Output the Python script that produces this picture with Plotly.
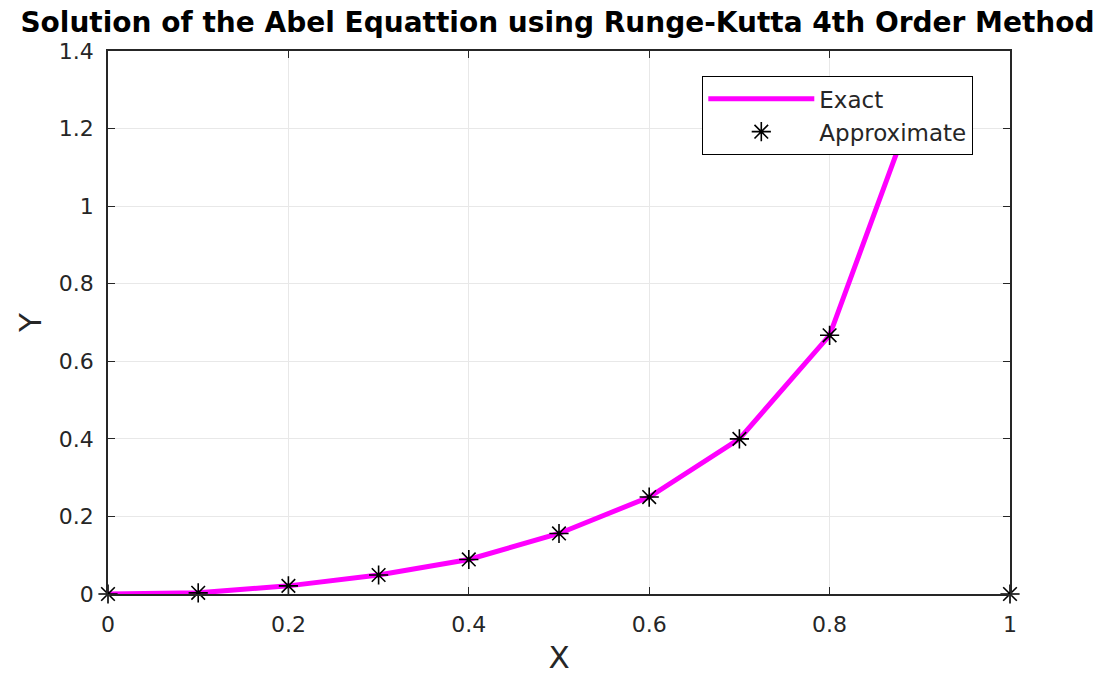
import plotly.graph_objects as go

x_vals = [0.0, 0.1, 0.2, 0.3, 0.4, 0.5, 0.6, 0.7, 0.8, 0.9, 1.0]
exact_vals = [0.0, 0.003, 0.021, 0.049, 0.089, 0.156, 0.25, 0.40, 0.667, 1.30, None]
approx_vals = [0.0, 0.003, 0.021, 0.049, 0.089, 0.156, 0.25, 0.40, 0.667, 1.30, 0.0]

title_text = "Solution of the Abel Equattion using Runge-Kutta 4th Order Method"
x_ticks = [0, 0.2, 0.4, 0.6, 0.8, 1]
y_ticks = [0, 0.2, 0.4, 0.6, 0.8, 1, 1.2, 1.4]

FONT = "DejaVu Sans, Liberation Sans, Arial, sans-serif"
TXT = "#262626"

fig = go.Figure()
fig.add_trace(go.Scatter(
    x=x_vals, y=exact_vals, mode="lines", name="Exact",
    line=dict(color="#ff00ff", width=5), connectgaps=False,
))
fig.add_trace(go.Scatter(
    x=x_vals, y=approx_vals, mode="markers", name="Approximate",
    marker=dict(symbol="asterisk-open", size=16, color="black",
                line=dict(color="black", width=1.6)),
    cliponaxis=False,
))

axis_common = dict(
    showline=True, linecolor=TXT, linewidth=1.5, mirror="ticks",
    ticks="inside", ticklen=7, tickcolor=TXT, tickwidth=1.2,
    showgrid=True, gridcolor="#e8e8e8", gridwidth=1, zeroline=False,
    tickfont=dict(family=FONT, size=22, color=TXT), automargin=False,
)

fig.update_layout(
    width=1115, height=675,
    margin=dict(l=108, r=105, t=51, b=81),
    paper_bgcolor="white", plot_bgcolor="white",
    title=dict(text="<b>" + title_text + "</b>", x=0.5, xanchor="center",
               y=1 - 22 / 675, yanchor="middle",
               font=dict(family=FONT, size=28, color="black")),
    xaxis=dict(range=[0, 1], tickvals=x_ticks, ticktext=[str(v) for v in x_ticks],
               ticklabelstandoff=10,
               title=dict(text="X", font=dict(family=FONT, size=31, color=TXT), standoff=12),
               **axis_common),
    yaxis=dict(range=[0, 1.4], tickvals=y_ticks, ticktext=[str(v) for v in y_ticks],
               ticklabelstandoff=8,
               title=dict(text="Y", font=dict(family=FONT, size=31, color=TXT), standoff=8),
               **axis_common),
    legend=dict(x=(702 - 108) / 902, y=(594 - 76) / 543, xanchor="left", yanchor="top",
                bgcolor="white", bordercolor="black", borderwidth=1.3,
                font=dict(family=FONT, size=23, color=TXT),
                itemwidth=106, tracegroupgap=0),
    showlegend=True,
)

fig.write_html("out.html")
